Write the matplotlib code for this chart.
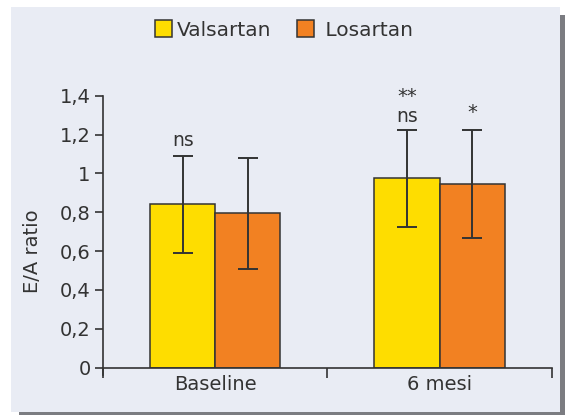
import matplotlib.pyplot as plt
import numpy as np
from matplotlib.patches import Rectangle, Patch

# data
groups = ['Baseline', '6 mesi']
valsartan = [0.84, 0.975]
valsartan_err = [0.25, 0.25]
losartan = [0.795, 0.945]
losartan_err = [0.285, 0.28]
y_ticks = [0, 0.2, 0.4, 0.6, 0.8, 1.0, 1.2, 1.4]
y_tick_labels = ['0', '0,2', '0,4', '0,6', '0,8', '1', '1,2', '1,4']

yellow = '#fedd00'
orange = '#f28122'
dark = '#333333'
panel = '#e9ecf4'

plt.rcParams['font.family'] = ['DejaVu Sans']
fig = plt.figure(figsize=(5.65, 4.15), dpi=100)
fig.patch.set_facecolor('white')

W, H = 565, 415
# shadow + panel
fig.patches.append(Rectangle((19 / W, 0), (565 - 19) / W, (415 - 15) / H,
                             transform=fig.transFigure, facecolor='#7b7c81',
                             edgecolor='none', zorder=0))
fig.patches.append(Rectangle((11 / W, (H - 412) / H), (560 - 11) / W, (412 - 7) / H,
                             transform=fig.transFigure, facecolor=panel,
                             edgecolor='none', zorder=0))

ax = fig.add_axes([103 / W, (H - 367.7) / H, (551.7 - 103) / W, (367.7 - 95.7) / H])
ax.set_facecolor('none')
ax.set_zorder(2)

fs = 14
x = np.array([0.5, 1.5])
w = 0.29
ekw = dict(ecolor=dark, elinewidth=1.4, capsize=7, capthick=1.4)
ax.bar(x - w / 2, valsartan, w, color=yellow, edgecolor=dark, linewidth=1.1,
       yerr=valsartan_err, error_kw=ekw, zorder=2)
ax.bar(x + w / 2, losartan, w, color=orange, edgecolor=dark, linewidth=1.1,
       yerr=losartan_err, error_kw=ekw, zorder=2)

ax.set_xlim(0, 2)
ax.set_ylim(0, 1.4)
ax.set_yticks(y_ticks)
ax.set_yticklabels(y_tick_labels, fontsize=fs, color=dark)
ax.set_xticks([0, 1, 2])
ax.set_xticklabels([])
ax.set_xticks(x, minor=True)
ax.set_xticklabels(groups, minor=True, fontsize=fs, color=dark)
ax.tick_params(axis='x', which='minor', length=0, pad=5)
ax.tick_params(axis='x', which='major', length=7, width=1.2, color=dark)
ax.tick_params(axis='y', length=6, width=1.2, color=dark, pad=3)
for s in ['top', 'right']:
    ax.spines[s].set_visible(False)
for s in ['left', 'bottom']:
    ax.spines[s].set_color(dark)
    ax.spines[s].set_linewidth(1.2)
ax.spines['left'].set_bounds(-0.04, 1.4)
ax.set_ylabel('E/A ratio', fontsize=fs, color=dark)
ax.yaxis.set_label_coords(-0.135, 0.43)

# significance labels
ax.text(x[0] - w / 2, 1.12, 'ns', ha='center', va='bottom', fontsize=fs - 0.5, color=dark)
ax.text(x[1] - w / 2, 1.245, 'ns', ha='center', va='bottom', fontsize=fs - 0.5, color=dark)
ax.text(x[1] - w / 2, 1.345, '**', ha='center', va='bottom', fontsize=fs, color=dark)
ax.text(x[1] + w / 2, 1.265, '*', ha='center', va='bottom', fontsize=fs, color=dark)

handles = [Patch(facecolor=yellow, edgecolor=dark, linewidth=1.1),
           Patch(facecolor=orange, edgecolor=dark, linewidth=1.1)]
fig.legend(handles, ['Valsartan', ' Losartan'], loc='center', ncol=2,
           bbox_to_anchor=(284 / W, 1 - 30 / H), frameon=False, fontsize=fs + 0.5,
           handlelength=0.85, handleheight=0.85, handletextpad=0.25,
           columnspacing=1.3, labelcolor=dark)

fig.savefig('out.png', dpi=100)
